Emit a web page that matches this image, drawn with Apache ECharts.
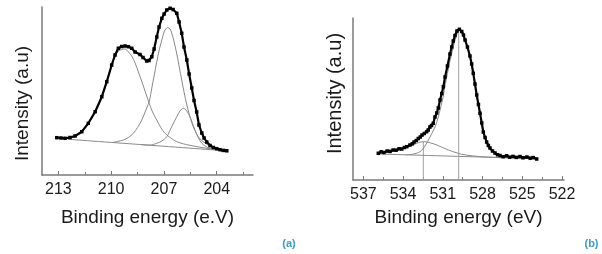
<!DOCTYPE html>
<html>
<head>
<meta charset="utf-8">
<script src="https://cdn.jsdelivr.net/npm/echarts@6/dist/echarts.min.js"></script>
<style>
html,body{margin:0;padding:0;background:#fff;}
#c{width:602px;height:254px;}
</style>
</head>
<body>
<div id="c"></div>
<script>
// ---------- Panel (a) ----------
const aTicks = [213, 210, 207, 204];
const aMinorTicks = [211.5, 208.5, 205.5, 202.5];
const aEnvE = [213.09,212.85,212.62,212.34,212.05,211.67,211.30,210.91,210.53,210.25,209.97,209.78,209.59,209.40,209.21,209.02,208.83,208.64,208.36,208.19,207.98,207.85,207.69,207.56,207.41,207.28,207.12,206.99,206.84,206.65,206.48,206.27,206.14,205.99,205.86,205.70,205.57,205.42,205.29,205.14,205.01,204.85,204.72,204.57,204.38,204.19,204.00,203.81,203.63,203.43];
const aEnvI = [37.3,37,36.7,37.5,39,43.3,51.7,63.3,78.3,93.3,110,120,126.7,128.5,129,128.3,126.7,123,120.5,117.5,114,114.5,118.3,126,138,148,156.7,161,165,166.7,165.5,161.7,153,141.7,128,115,101,87,74.5,63,50,42,37,33,29.5,27.5,26.3,25.3,24.6,24.2];
const aC1E = [212.43,212.05,211.67,211.30,210.91,210.53,210.25,209.97,209.78,209.59,209.40,209.21,209.02,208.83,208.64,208.45,208.17,207.98,207.83,207.65,207.41,207.18,206.94,206.61,206.27,205.90,205.52,204.95,204.38,203.53];
const aC1I = [35.7,38.5,43,51,62.5,77.5,92.5,109,118.5,124,125.5,126,123,119,112,103,89,79,71.5,63,55,47.5,41.7,37,33.3,31.2,29.7,27.8,26.2,24.3];
const aC2E = [209.88,209.31,209.02,208.74,208.50,208.26,207.98,207.83,207.69,207.55,207.41,207.27,207.12,206.97,206.80,206.65,206.56,206.42,206.27,206.13,205.99,205.86,205.70,205.52,205.33,205.14,204.95,204.57,204.19,203.81,203.53];
const aC2I = [32.7,35,37.5,41.7,47.5,55,67,74,87,100,113,125,135,144,147.3,146,142,133,121,108,95,83,70,58,48,41,36,31,28,25.7,24.3];
const aC3E = [208.36,207.79,207.41,207.12,206.84,206.56,206.27,206.09,205.90,205.70,205.52,205.24,205.05,204.85,204.57,204.19,203.81,203.53];
const aC3I = [30.5,29.9,31.7,34,38.3,48.3,58.3,64,66.7,64,58.3,45,37.5,31.7,28,26,25,24.3];
const aBaseE = [212.43, 203.53];
const aBaseI = [35.7, 24.3];

// ---------- Panel (b) ----------
const bTicks = [537, 534, 531, 528, 525, 522];
const bMinorTicks = [535.5, 532.5, 529.5, 526.5, 523.5];
const bEnvE = [535.87,535.65,535.44,535.2,534.98,534.75,534.53,534.30,534.10,533.90,533.72,533.48,533.30,533.17,533.00,532.85,532.70,532.57,532.40,532.22,532.10,531.97,531.85,531.72,531.59,531.46,531.34,531.21,531.08,530.96,530.83,530.65,530.46,530.33,530.21,530.08,529.93,529.75,529.57,529.44,529.32,529.14,528.95,528.82,528.70,528.57,528.44,528.31,528.19,528.06,527.94,527.81,527.69,527.56,527.44,527.25,527.06,526.87,526.68,526.45,526.18,525.95,525.70,525.45,525.17,524.95,524.65,524.40,524.17,523.91];
const bEnvI = [26.7,28.2,27.5,29,28.6,30,29.8,31.2,31,32.5,33.3,35,36.2,38,39.5,41.5,43,45,46.5,48.3,50,53,54.5,56.7,63,67,72,80,86.5,93.3,103,114,126,133,139,144.5,149,150.7,148.5,145,140,133,124,116,106.7,96,85,75.5,66.7,57,48,42.5,38,34.5,32,29,27,25.2,24.5,23.3,24.2,22.8,23.6,22.6,23.5,22.2,23,21.8,22.4,21];
const bC1E = [535.87,534.98,534.10,533.48,533.00,532.72,532.47,532.20,531.90,531.59,531.10,530.58,530.08,529.57,528.80,528.06,527.00,526.30];
const bC1I = [26.3,28.8,31.3,34,36.5,37.8,38.3,38,37,35.7,33,30,27.7,25.7,24.2,23.3,22.6,22.3];
const bC2E = [533.80,533.23,532.72,532.34,531.97,531.59,531.34,531.21,530.96,530.83,530.65,530.46,530.21,530.08,529.93,529.80,529.65,529.57,529.44,529.32,529.14,528.95,528.70,528.44,528.19,527.94,527.69,527.44,527.06,526.68,526.18,525.17,523.91];
const bC2I = [25.2,25.9,28.3,34,43,53,63,70,84,95,106.5,119,133,139.5,146,150.5,149.5,148,144.5,139.5,132.5,123.5,106,84.5,66,47.5,37.5,31.5,26.5,24,22.8,22,21.3];
const bBaseE = [535.87, 523.91];
const bBaseI = [26.0, 21.3];
const bPeakE = [532.47, 529.80];
const bPeakI = [38.3, 150.5];

function pairs(xs, ys) { return xs.map((x, i) => [x, ys[i]]); }

const FONT = 'Liberation Sans, Arial, sans-serif';
const TXT = '#1a1a1a';
const AXC = '#7a7a7a';
const COMP = '#8a8a8a';

function mainX(gi, min, max, ticks) {
  return {
    type: 'value', gridIndex: gi, min: min, max: max, inverse: true,
    axisLine: { show: true, lineStyle: { color: AXC, width: 1.5 } },
    axisTick: { show: true, inside: true, length: 4, customValues: ticks, lineStyle: { color: AXC } },
    axisLabel: { show: true, customValues: ticks, color: TXT, fontSize: 16, fontFamily: FONT, margin: 7 },
    splitLine: { show: false },
    name: 'Binding energy', nameLocation: 'middle', nameGap: 30,
    nameTextStyle: { color: TXT, fontSize: 19, fontFamily: FONT }
  };
}
function minorX(gi, min, max, ticks) {
  return {
    type: 'value', gridIndex: gi, min: min, max: max, inverse: true, position: 'bottom',
    axisLine: { show: false },
    axisTick: { show: true, inside: true, length: 3, customValues: ticks, lineStyle: { color: AXC } },
    axisLabel: { show: false }, splitLine: { show: false }
  };
}
function yAx(gi, max) {
  return {
    type: 'value', gridIndex: gi, min: 0, max: max,
    axisLine: { show: true, lineStyle: { color: AXC, width: 1.5 } },
    axisTick: { show: false }, axisLabel: { show: false }, splitLine: { show: false }
  };
}
function compSeries(xi, yi, xs, ys) {
  return {
    type: 'line', xAxisIndex: xi, yAxisIndex: yi, data: pairs(xs, ys),
    showSymbol: false, smooth: 0.3, lineStyle: { color: COMP, width: 1 }, z: 2, silent: true
  };
}
function dataSeries(xi, yi, xs, ys) {
  return {
    type: 'line', xAxisIndex: xi, yAxisIndex: yi, data: pairs(xs, ys),
    symbol: 'rect', symbolSize: 3.5, showSymbol: true,
    itemStyle: { color: '#000' }, lineStyle: { color: '#000', width: 2.2 }, z: 5, silent: true
  };
}

const xa0 = mainX(0, 201.94, 213.93, aTicks); xa0.name = 'Binding energy (e.V)'; xa0.nameGap = 33;
const xa1 = mainX(1, 521.85, 537.78, bTicks); xa1.name = 'Binding energy (eV)'; xa1.nameGap = 27;

const vlines = bPeakE.map((e, i) => ({
  type: 'line', xAxisIndex: 1, yAxisIndex: 1, data: [[e, 0], [e, bPeakI[i]]],
  showSymbol: false, lineStyle: { color: '#a0a0a0', width: 1 }, z: 1, silent: true
}));

const option = {
  animation: false,
  backgroundColor: '#fff',
  grid: [
    { left: 42, top: 7, width: 211, height: 168 },
    { left: 353, top: 18, width: 211, height: 162 }
  ],
  xAxis: [xa0, xa1, minorX(0, 201.94, 213.93, aMinorTicks), minorX(1, 521.85, 537.78, bMinorTicks)],
  yAxis: [yAx(0, 168), yAx(1, 162)],
  series: [
    compSeries(0, 0, aBaseE, aBaseI),
    compSeries(0, 0, aC1E, aC1I),
    compSeries(0, 0, aC2E, aC2I),
    compSeries(0, 0, aC3E, aC3I),
    dataSeries(0, 0, aEnvE, aEnvI),
    ...vlines,
    compSeries(1, 1, bBaseE, bBaseI),
    compSeries(1, 1, bC1E, bC1I),
    compSeries(1, 1, bC2E, bC2I),
    dataSeries(1, 1, bEnvE, bEnvI)
  ],
  graphic: [
    { type: 'text', x: 23, y: 103.5, rotation: Math.PI / 2,
      style: { text: 'Intensity (a.u)', fill: TXT, font: '19px ' + FONT, textAlign: 'center', textVerticalAlign: 'middle' } },
    { type: 'text', x: 335, y: 93.5, rotation: Math.PI / 2,
      style: { text: 'Intensity (a.u)', fill: TXT, font: '20px ' + FONT, textAlign: 'center', textVerticalAlign: 'middle' } },
    { type: 'text', x: 289, y: 244,
      style: { text: '(a)', fill: '#3a9cc4', font: 'bold 11px ' + FONT, textAlign: 'center', textVerticalAlign: 'middle' } },
    { type: 'text', x: 591.5, y: 243.5,
      style: { text: '(b)', fill: '#3a9cc4', font: 'bold 11px ' + FONT, textAlign: 'center', textVerticalAlign: 'middle' } }
  ]
};

const chart = echarts.init(document.getElementById('c'), null, { renderer: 'canvas' });
chart.setOption(option);
</script>
</body>
</html>
